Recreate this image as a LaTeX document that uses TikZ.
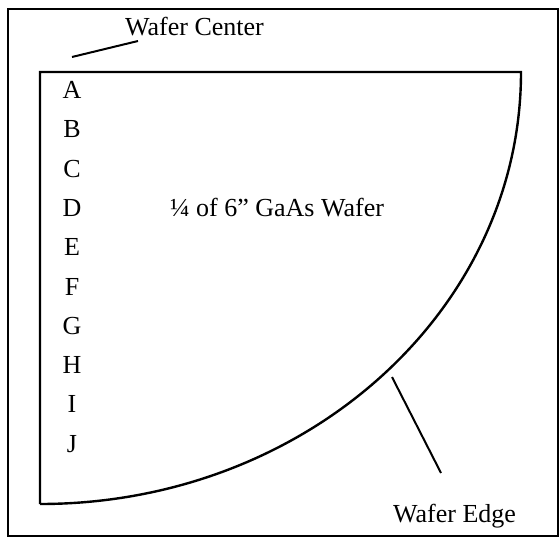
\documentclass[tikz,border=0pt]{standalone}
\usepackage{fontspec}
\setmainfont{Liberation Serif}
\begin{document}
\begin{tikzpicture}[x=1pt,y=-1pt,
  lbl/.style={inner sep=0pt,font=\fontsize{26}{30}\selectfont},
  ln/.style={line width=2pt},
  shapeline/.style={line width=2.4pt,line join=miter}]
\useasboundingbox (0,0) rectangle (560,538);
% outer frame
\draw[line width=1.8pt] (8,9) rectangle (558,536);
% quarter wafer
\coordinate (ctr) at (40,72);
\coordinate (tr) at (521,72);
\coordinate (bl) at (40,504);
\draw[shapeline] (bl) -- (ctr) -- (tr) arc[start angle=0,end angle=90,x radius=481,y radius=432];
% row letters
\foreach \L [count=\i from 0] in {A,B,C,D,E,F,G,H,I,J}{
  \node[lbl,anchor=base] (row\L) at (72,{98.5+39.3*\i}) {\L};
}
% center label
\node[lbl,anchor=base west] (title) at (170,216) {¼ of 6” GaAs Wafer};
% wafer center label
\node[lbl,anchor=base west] (wc) at (125,35) {Wafer Center};
\coordinate (wcA) at (138,41);
\coordinate (wcB) at (72,57);
\draw[ln] (wcA) -- (wcB);
% wafer edge label
\node[lbl,anchor=base west] (we) at (393,522) {Wafer Edge};
\coordinate (weA) at (392,377);
\coordinate (weB) at (441,473);
\draw[ln] (weA) -- (weB);
\end{tikzpicture}
\end{document}
